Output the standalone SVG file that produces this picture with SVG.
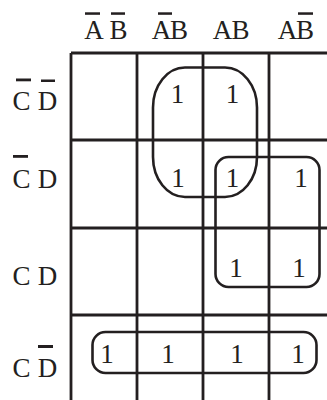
<svg xmlns="http://www.w3.org/2000/svg" width="327" height="400" viewBox="0 0 327 400">
<style>
.g{stroke:#231f20;stroke-width:2.8;fill:none}
.lp{stroke:#231f20;stroke-width:2.6;fill:none}
.t{font-family:"Liberation Serif","Times New Roman",serif;font-size:27px;fill:#231f20;text-anchor:middle}
.bar{fill:#231f20}
</style>
<rect width="327" height="400" fill="#ffffff"/>
<g id="grid">
<line class="g" x1="71" y1="53" x2="327" y2="53"/>
<line class="g" x1="71" y1="140" x2="327" y2="140"/>
<line class="g" x1="71" y1="228" x2="327" y2="228"/>
<line class="g" x1="71" y1="315" x2="327" y2="315"/>
<line class="g" x1="71" y1="53" x2="71" y2="400"/>
<line class="g" x1="137" y1="53" x2="137" y2="400"/>
<line class="g" x1="203" y1="53" x2="203" y2="400"/>
<line class="g" x1="269" y1="53" x2="269" y2="400"/>
</g>
<g id="col-labels">
<text class="t" y="39"><tspan x="94">A</tspan><tspan x="118.5">B</tspan></text>
<text class="t" y="39"><tspan x="161.5">A</tspan><tspan x="179">B</tspan></text>
<text class="t" y="39"><tspan x="222.5">A</tspan><tspan x="240.5">B</tspan></text>
<text class="t" y="39"><tspan x="287.5">A</tspan><tspan x="305">B</tspan></text>
<rect class="bar" x="85" y="12.3" width="15" height="2.5"/>
<rect class="bar" x="111" y="12.3" width="14" height="2.5"/>
<rect class="bar" x="158" y="12.3" width="14" height="2.5"/>
<rect class="bar" x="298" y="12.3" width="15" height="2.5"/>
</g>
<g id="row-labels">
<text class="t" y="110"><tspan x="21.5">C</tspan><tspan x="47.5">D</tspan></text>
<text class="t" y="188"><tspan x="21.5">C</tspan><tspan x="47.5">D</tspan></text>
<text class="t" y="285"><tspan x="21.5">C</tspan><tspan x="47.5">D</tspan></text>
<text class="t" y="377"><tspan x="21.5">C</tspan><tspan x="47.5">D</tspan></text>
<rect class="bar" x="16" y="78.5" width="15" height="2.8"/>
<rect class="bar" x="41" y="79.5" width="14" height="2.5"/>
<rect class="bar" x="13" y="155" width="15" height="2.8"/>
<rect class="bar" x="38" y="345" width="15" height="3"/>
</g>
<g id="cells">
<text class="t" x="177.5" y="103">1</text>
<text class="t" x="232.5" y="103">1</text>
<text class="t" x="178" y="187">1</text>
<text class="t" x="232.5" y="187">1</text>
<text class="t" x="301" y="187">1</text>
<text class="t" x="236" y="277">1</text>
<text class="t" x="299" y="277">1</text>
<text class="t" x="107" y="363">1</text>
<text class="t" x="168" y="363">1</text>
<text class="t" x="237" y="363">1</text>
<text class="t" x="298" y="363">1</text>
</g>
<g id="loops">
<rect class="lp" x="153" y="67.5" width="104" height="129.5" rx="32" ry="40"/>
<rect class="lp" x="215.5" y="157" width="104" height="130" rx="13" ry="13"/>
<rect class="lp" x="92.5" y="332" width="224" height="41" rx="13" ry="13"/>
</g>
</svg>
